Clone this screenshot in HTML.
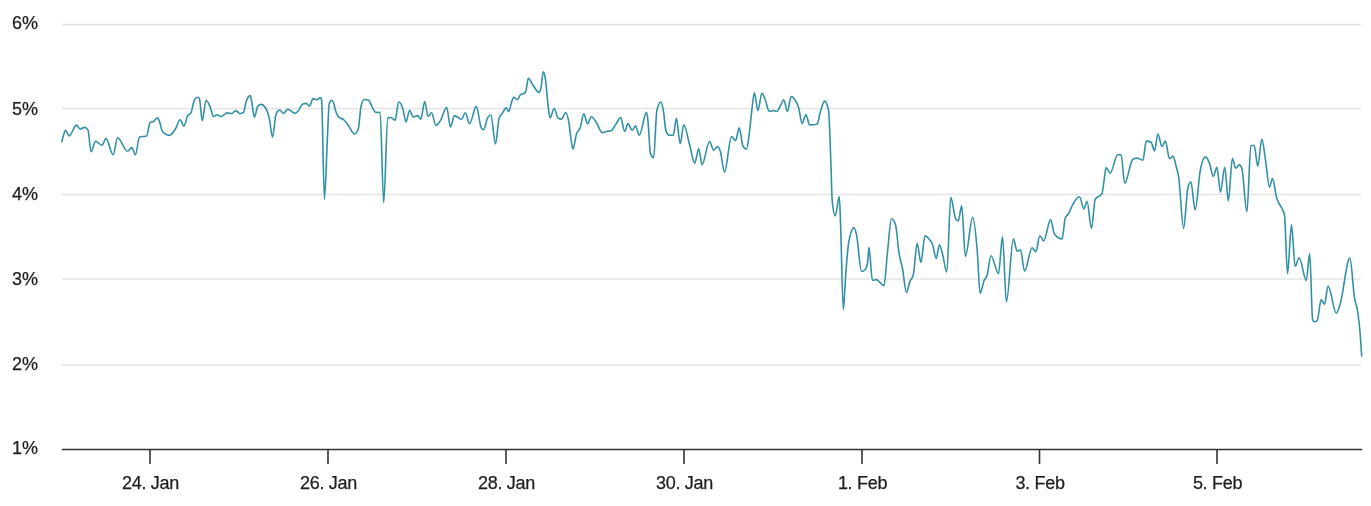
<!DOCTYPE html>
<html><head><meta charset="utf-8"><style>
html,body{margin:0;padding:0;background:#fff;width:1371px;height:506px;overflow:hidden}
svg{display:block;will-change:transform}
text{font-family:"Liberation Sans",sans-serif;font-size:18px;fill:#1e1e1e;stroke:#1e1e1e;stroke-width:0.25px}
</style></head><body>
<svg width="1371" height="506" viewBox="0 0 1371 506">
<line x1="62" y1="24.4" x2="1361" y2="24.4" stroke="#e4e4e4" stroke-width="1.5"/>
<line x1="62" y1="108.6" x2="1361" y2="108.6" stroke="#e4e4e4" stroke-width="1.5"/>
<line x1="62" y1="194.4" x2="1361" y2="194.4" stroke="#e4e4e4" stroke-width="1.5"/>
<line x1="62" y1="279" x2="1361" y2="279" stroke="#e4e4e4" stroke-width="1.5"/>
<line x1="62" y1="364.9" x2="1361" y2="364.9" stroke="#e4e4e4" stroke-width="1.5"/>
<line x1="62" y1="449.5" x2="1362" y2="449.5" stroke="#333" stroke-width="1.6"/>
<line x1="150" y1="449" x2="150" y2="464" stroke="#333" stroke-width="1.6"/>
<line x1="328" y1="449" x2="328" y2="464" stroke="#333" stroke-width="1.6"/>
<line x1="506" y1="449" x2="506" y2="464" stroke="#333" stroke-width="1.6"/>
<line x1="684" y1="449" x2="684" y2="464" stroke="#333" stroke-width="1.6"/>
<line x1="862" y1="449" x2="862" y2="464" stroke="#333" stroke-width="1.6"/>
<line x1="1039.5" y1="449" x2="1039.5" y2="464" stroke="#333" stroke-width="1.6"/>
<line x1="1217" y1="449" x2="1217" y2="464" stroke="#333" stroke-width="1.6"/>
<path d="M61.8 141.7 C63.03 137.93 64.27 130.40 65.5 130.4 C66.73 130.40 67.97 135.90 69.2 135.9 C71.60 135.90 74.00 125.10 76.4 125.1 C77.67 125.10 78.93 129.20 80.2 129.2 C81.67 129.20 83.13 127.40 84.6 127.4 C85.73 127.40 86.87 128.33 88.0 130.2 C89.03 131.90 90.07 151.70 91.1 151.7 C92.57 151.70 94.03 141.30 95.5 141.3 C97.63 141.30 99.77 145.20 101.9 145.2 C103.27 145.20 104.63 138.60 106.0 138.6 C108.40 138.60 110.80 154.70 113.2 154.7 C114.67 154.70 116.13 137.70 117.6 137.7 C120.90 137.70 124.20 151.30 127.5 151.3 C129.00 151.30 130.50 147.60 132.0 147.6 C133.13 147.60 134.27 155.00 135.4 155.0 C136.77 155.00 138.13 137.42 139.5 137.0 C141.87 136.27 144.23 136.63 146.6 135.9 C147.77 135.54 148.93 123.19 150.1 122.5 C151.23 121.83 152.37 122.16 153.5 121.5 C154.87 120.71 156.23 117.70 157.6 117.7 C158.27 117.70 158.93 120.06 159.6 121.8 C160.53 124.24 161.47 130.17 162.4 131.3 C164.67 134.03 166.93 135.40 169.2 135.4 C171.23 135.40 173.27 132.45 175.3 129.3 C176.90 126.82 178.50 119.80 180.1 119.8 C181.37 119.80 182.63 126.20 183.9 126.2 C185.13 126.20 186.37 117.73 187.6 115.7 C188.73 113.83 189.87 114.77 191.0 112.9 C192.13 111.03 193.27 101.80 194.4 100.0 C195.53 98.20 196.67 97.30 197.8 97.3 C198.33 97.30 198.87 97.73 199.4 98.6 C200.37 100.17 201.33 120.70 202.3 120.7 C203.53 120.70 204.77 100.30 206.0 100.3 C207.37 100.30 208.73 103.66 210.1 106.8 C211.23 109.40 212.37 116.60 213.5 116.6 C214.63 116.60 215.77 114.70 216.9 114.7 C218.27 114.70 219.63 116.60 221.0 116.6 C223.03 116.60 225.07 112.90 227.1 112.9 C228.70 112.90 230.30 113.60 231.9 113.6 C233.17 113.60 234.43 110.60 235.7 110.6 C237.17 110.60 238.63 113.60 240.1 113.6 C241.23 113.60 242.37 113.17 243.5 112.3 C244.40 111.61 245.30 103.95 246.2 101.4 C247.57 97.53 248.93 95.60 250.3 95.6 C250.90 95.60 251.50 101.00 252.1 104.1 C252.87 108.06 253.63 117.30 254.4 117.3 C255.53 117.30 256.67 107.23 257.8 106.1 C258.93 104.97 260.07 104.40 261.2 104.4 C262.57 104.40 263.93 105.43 265.3 107.5 C266.67 109.57 268.03 112.92 269.4 119.1 C270.43 123.78 271.47 137.10 272.5 137.1 C273.73 137.10 274.97 116.21 276.2 113.6 C277.33 111.20 278.47 110.00 279.6 110.0 C280.97 110.00 282.33 113.30 283.7 113.3 C285.07 113.30 286.43 109.30 287.8 109.3 C290.30 109.30 292.80 113.30 295.3 113.3 C296.43 113.30 297.57 111.53 298.7 110.2 C300.07 108.60 301.43 104.66 302.8 104.1 C303.93 103.63 305.07 103.40 306.2 103.4 C307.33 103.40 308.47 106.10 309.6 106.1 C310.73 106.10 311.87 98.60 313.0 98.6 C314.37 98.60 315.73 99.70 317.1 99.7 C318.23 99.70 319.37 97.50 320.5 97.5 C320.87 97.50 321.23 98.33 321.6 100.0 C322.53 104.24 323.47 199.20 324.4 199.2 C325.40 199.20 326.40 157.52 327.4 138.0 C328.00 126.28 328.60 105.68 329.2 103.8 C329.97 101.40 330.73 100.20 331.5 100.2 C332.10 100.20 332.70 100.80 333.3 102.0 C334.03 103.47 334.77 108.28 335.5 110.6 C336.87 114.93 338.23 116.87 339.6 117.9 C340.83 118.83 342.07 118.38 343.3 119.3 C344.80 120.42 346.30 122.80 347.8 124.7 C350.07 127.57 352.33 134.00 354.6 134.0 C355.83 134.00 357.07 132.27 358.3 128.8 C359.20 126.27 360.10 110.44 361.0 106.5 C362.07 101.83 363.13 99.50 364.2 99.5 C365.70 99.50 367.20 99.73 368.7 100.2 C369.93 100.58 371.17 105.43 372.4 107.5 C373.60 109.51 374.80 112.50 376.0 112.5 C377.37 112.50 378.73 112.20 380.1 112.2 C381.30 112.20 382.50 202.60 383.7 202.6 C385.07 202.60 386.43 118.24 387.8 117.9 C388.87 117.63 389.93 117.50 391.0 117.5 C392.37 117.50 393.73 120.20 395.1 120.2 C396.30 120.20 397.50 102.00 398.7 102.0 C400.07 102.00 401.43 104.20 402.8 108.4 C403.87 111.68 404.93 122.00 406.0 122.0 C407.20 122.00 408.40 110.20 409.6 110.2 C410.83 110.20 412.07 117.00 413.3 117.0 C414.80 117.00 416.30 115.60 417.8 115.6 C418.80 115.60 419.80 119.30 420.8 119.3 C422.10 119.30 423.40 101.50 424.7 101.5 C425.83 101.50 426.97 116.50 428.1 116.5 C429.30 116.50 430.50 112.70 431.7 112.7 C433.07 112.70 434.43 125.50 435.8 125.5 C437.33 125.50 438.87 122.91 440.4 120.6 C442.50 117.44 444.60 107.30 446.7 107.3 C447.93 107.30 449.17 127.00 450.4 127.0 C451.77 127.00 453.13 115.60 454.5 115.6 C456.77 115.60 459.03 119.30 461.3 119.3 C462.67 119.30 464.03 112.70 465.4 112.7 C466.77 112.70 468.13 123.80 469.5 123.8 C471.77 123.80 474.03 106.40 476.3 106.4 C477.97 106.40 479.63 125.17 481.3 127.9 C482.03 129.10 482.77 129.70 483.5 129.7 C484.87 129.70 486.23 120.39 487.6 117.9 C488.67 115.96 489.73 114.70 490.8 114.7 C492.37 114.70 493.93 144.00 495.5 144.0 C496.70 144.00 497.90 121.83 499.1 118.2 C500.27 114.67 501.43 114.66 502.6 112.9 C503.73 111.19 504.87 107.80 506.0 107.8 C506.90 107.80 507.80 111.50 508.7 111.5 C509.47 111.50 510.23 106.40 511.0 104.2 C511.90 101.61 512.80 97.40 513.7 97.4 C514.93 97.40 516.17 99.60 517.4 99.6 C518.43 99.60 519.47 95.26 520.5 94.6 C521.87 93.73 523.23 94.17 524.6 93.3 C525.07 93.00 525.53 92.02 526.0 90.5 C526.77 88.01 527.53 78.30 528.3 78.3 C529.67 78.30 531.03 82.35 532.4 84.2 C534.67 87.28 536.93 92.50 539.2 92.5 C539.80 92.50 540.40 90.50 541.0 87.8 C541.77 84.35 542.53 71.90 543.3 71.9 C544.03 71.90 544.77 74.91 545.5 79.6 C546.43 85.57 547.37 100.83 548.3 107.8 C548.87 112.03 549.43 117.80 550.0 117.8 C551.40 117.80 552.80 108.50 554.2 108.5 C555.53 108.50 556.87 117.53 558.2 118.2 C559.40 118.80 560.60 119.10 561.8 119.1 C563.03 119.10 564.27 112.50 565.5 112.5 C566.63 112.50 567.77 115.90 568.9 122.7 C569.57 126.70 570.23 133.98 570.9 138.3 C571.60 142.84 572.30 149.00 573.0 149.0 C574.13 149.00 575.27 137.82 576.4 134.3 C577.67 130.37 578.93 131.20 580.2 127.7 C581.43 124.30 582.67 113.80 583.9 113.8 C585.10 113.80 586.30 124.00 587.5 124.0 C588.77 124.00 590.03 116.80 591.3 116.8 C592.90 116.80 594.50 119.83 596.1 122.0 C598.17 124.80 600.23 132.60 602.3 132.6 C603.87 132.60 605.43 131.60 607.0 131.3 C608.37 131.03 609.73 131.13 611.1 130.8 C612.47 130.47 613.83 127.26 615.2 125.4 C617.03 122.91 618.87 117.60 620.7 117.6 C622.03 117.60 623.37 131.50 624.7 131.5 C625.77 131.50 626.83 123.60 627.9 123.6 C629.33 123.60 630.77 130.20 632.2 130.2 C633.33 130.20 634.47 126.10 635.6 126.1 C636.83 126.10 638.07 135.30 639.3 135.3 C641.70 135.30 644.10 112.40 646.5 112.4 C646.93 112.40 647.37 115.95 647.8 119.3 C648.70 126.26 649.60 151.48 650.5 153.8 C651.53 156.47 652.57 157.80 653.6 157.8 C654.70 157.80 655.80 114.71 656.9 110.2 C658.23 104.73 659.57 102.00 660.9 102.0 C661.70 102.00 662.50 105.84 663.3 110.2 C664.20 115.11 665.10 129.00 666.0 131.1 C667.20 133.90 668.40 135.30 669.6 135.3 C670.83 135.30 672.07 135.30 673.3 135.3 C674.33 135.30 675.37 118.40 676.4 118.4 C677.67 118.40 678.93 143.80 680.2 143.8 C681.40 143.80 682.60 124.70 683.8 124.7 C685.73 124.70 687.67 137.83 689.6 144.7 C691.30 150.74 693.00 163.30 694.7 163.3 C696.03 163.30 697.37 148.70 698.7 148.7 C699.80 148.70 700.90 164.70 702.0 164.7 C704.53 164.70 707.07 141.50 709.6 141.5 C710.93 141.50 712.27 150.20 713.6 150.2 C715.00 150.20 716.40 146.50 717.8 146.5 C718.70 146.50 719.60 149.06 720.5 152.0 C721.83 156.36 723.17 172.40 724.5 172.4 C726.83 172.40 729.17 136.50 731.5 136.5 C732.87 136.50 734.23 140.60 735.6 140.6 C736.80 140.60 738.00 127.90 739.2 127.9 C740.43 127.90 741.67 143.88 742.9 146.0 C744.10 148.07 745.30 149.10 746.5 149.1 C747.33 149.10 748.17 141.74 749.0 135.8 C749.90 129.39 750.80 118.45 751.7 111.3 C752.60 104.15 753.50 92.90 754.4 92.9 C755.57 92.90 756.73 110.60 757.9 110.6 C759.23 110.60 760.57 93.30 761.9 93.3 C763.03 93.30 764.17 96.99 765.3 99.7 C766.60 102.81 767.90 111.30 769.2 111.3 C770.63 111.30 772.07 110.60 773.5 110.6 C774.63 110.60 775.77 111.30 776.9 111.3 C778.27 111.30 779.63 106.75 781.0 104.4 C781.90 102.85 782.80 99.70 783.7 99.7 C784.93 99.70 786.17 111.50 787.4 111.5 C788.67 111.50 789.93 96.50 791.2 96.5 C792.57 96.50 793.93 98.16 795.3 100.4 C796.43 102.26 797.57 104.05 798.7 107.9 C799.83 111.75 800.97 123.50 802.1 123.5 C803.40 123.50 804.70 114.70 806.0 114.7 C807.20 114.70 808.40 124.90 809.6 124.9 C812.10 124.90 814.60 124.67 817.1 124.2 C818.23 123.99 819.37 114.93 820.5 111.3 C821.87 106.92 823.23 101.10 824.6 101.1 C825.90 101.10 827.20 104.13 828.5 110.2 C829.27 113.78 830.03 140.21 830.8 160.2 C831.27 172.37 831.73 195.55 832.2 200.4 C833.20 210.80 834.20 216.00 835.2 216.0 C836.57 216.00 837.93 196.50 839.3 196.5 C839.73 196.50 840.17 214.09 840.6 224.9 C841.50 247.35 842.40 309.60 843.3 309.6 C844.13 309.60 844.97 284.03 845.8 273.4 C846.70 261.92 847.60 249.37 848.5 244.0 C850.33 233.07 852.17 227.60 854.0 227.6 C854.90 227.60 855.80 231.65 856.7 235.8 C858.30 243.18 859.90 271.40 861.5 271.4 C862.63 271.40 863.77 270.93 864.9 270.0 C865.80 269.26 866.70 267.50 867.6 262.5 C868.07 259.91 868.53 247.40 869.0 247.4 C870.13 247.40 871.27 280.30 872.4 280.3 C873.77 280.30 875.13 279.60 876.5 279.6 C877.63 279.60 878.77 281.38 879.9 282.3 C881.27 283.41 882.63 285.70 884.0 285.7 C885.13 285.70 886.27 263.24 887.4 253.0 C888.77 240.65 890.13 218.80 891.5 218.8 C892.87 218.80 894.23 220.83 895.6 224.9 C896.73 228.27 897.87 245.82 899.0 253.0 C900.13 260.18 901.27 262.20 902.4 268.0 C903.77 275.00 905.13 292.50 906.5 292.5 C907.63 292.50 908.77 284.55 909.9 281.6 C911.03 278.65 912.17 279.33 913.3 274.8 C914.60 269.60 915.90 243.30 917.2 243.3 C918.43 243.30 919.67 262.50 920.9 262.5 C922.27 262.50 923.63 235.80 925.0 235.8 C926.57 235.80 928.13 237.89 929.7 239.9 C930.60 241.05 931.50 241.82 932.4 244.0 C933.70 247.14 935.00 258.50 936.3 258.5 C937.30 258.50 938.30 244.70 939.3 244.7 C940.30 244.70 941.30 249.64 942.3 253.0 C943.80 258.04 945.30 272.10 946.8 272.1 C948.13 272.10 949.47 197.40 950.8 197.4 C952.40 197.40 954.00 216.43 955.6 218.8 C956.50 220.13 957.40 220.80 958.3 220.8 C959.43 220.80 960.57 205.80 961.7 205.8 C962.93 205.80 964.17 256.40 965.4 256.4 C967.83 256.40 970.27 217.40 972.7 217.4 C974.27 217.40 975.83 233.86 977.4 253.0 C978.30 264.00 979.20 293.20 980.1 293.2 C981.47 293.20 982.83 283.44 984.2 280.3 C985.13 278.16 986.07 278.34 987.0 275.5 C988.33 271.44 989.67 255.70 991.0 255.7 C993.50 255.70 996.00 273.60 998.5 273.6 C999.83 273.60 1001.17 236.80 1002.5 236.8 C1003.80 236.80 1005.10 302.00 1006.4 302.0 C1008.73 302.00 1011.07 238.90 1013.4 238.9 C1014.63 238.90 1015.87 251.10 1017.1 251.1 C1018.23 251.10 1019.37 249.80 1020.5 249.8 C1021.87 249.80 1023.23 271.20 1024.6 271.2 C1027.10 271.20 1029.60 247.70 1032.1 247.7 C1033.33 247.70 1034.57 251.80 1035.8 251.8 C1037.17 251.80 1038.53 235.70 1039.9 235.7 C1041.17 235.70 1042.43 240.90 1043.7 240.9 C1046.00 240.90 1048.30 219.60 1050.6 219.6 C1051.87 219.60 1053.13 232.39 1054.4 234.0 C1056.97 237.27 1059.53 238.90 1062.1 238.9 C1063.13 238.90 1064.17 221.06 1065.2 218.2 C1066.33 215.07 1067.47 215.47 1068.6 213.5 C1069.97 211.12 1071.33 207.05 1072.7 204.6 C1074.97 200.54 1077.23 196.70 1079.5 196.7 C1080.97 196.70 1082.43 209.00 1083.9 209.0 C1084.93 209.00 1085.97 201.20 1087.0 201.2 C1088.50 201.20 1090.00 228.50 1091.5 228.5 C1092.73 228.50 1093.97 201.20 1095.2 199.2 C1097.47 195.53 1099.73 197.37 1102.0 193.7 C1102.70 192.57 1103.40 184.55 1104.1 180.1 C1104.77 175.86 1105.43 167.60 1106.1 167.6 C1107.47 167.60 1108.83 173.10 1110.2 173.1 C1112.70 173.10 1115.20 154.70 1117.7 154.7 C1118.83 154.70 1119.97 154.70 1121.1 154.7 C1122.30 154.70 1123.50 183.30 1124.7 183.3 C1127.37 183.30 1130.03 161.32 1132.7 159.5 C1134.07 158.57 1135.43 158.10 1136.8 158.1 C1138.83 158.10 1140.87 160.20 1142.9 160.2 C1144.03 160.20 1145.17 141.10 1146.3 141.1 C1147.90 141.10 1149.50 141.47 1151.1 142.2 C1152.23 142.72 1153.37 150.90 1154.5 150.9 C1155.63 150.90 1156.77 134.00 1157.9 134.0 C1159.27 134.00 1160.63 146.50 1162.0 146.5 C1163.13 146.50 1164.27 141.10 1165.4 141.1 C1166.77 141.10 1168.13 158.80 1169.5 158.8 C1170.63 158.80 1171.77 156.10 1172.9 156.1 C1174.03 156.10 1175.17 162.65 1176.3 167.0 C1177.10 170.07 1177.90 172.25 1178.7 177.3 C1180.33 187.61 1181.97 228.40 1183.6 228.4 C1185.00 228.40 1186.40 193.98 1187.8 188.2 C1188.83 183.93 1189.87 181.80 1190.9 181.8 C1192.30 181.80 1193.70 210.00 1195.1 210.0 C1196.90 210.00 1198.70 177.88 1200.5 169.1 C1202.17 160.97 1203.83 156.90 1205.5 156.9 C1206.87 156.90 1208.23 160.06 1209.6 163.6 C1210.83 166.80 1212.07 176.40 1213.3 176.4 C1214.50 176.40 1215.70 167.30 1216.9 167.3 C1218.10 167.30 1219.30 192.20 1220.5 192.2 C1221.90 192.20 1223.30 167.30 1224.7 167.3 C1225.93 167.30 1227.17 200.90 1228.4 200.9 C1229.73 200.90 1231.07 158.20 1232.4 158.2 C1233.47 158.20 1234.53 168.20 1235.6 168.2 C1236.83 168.20 1238.07 164.90 1239.3 164.9 C1240.13 164.90 1240.97 166.00 1241.8 168.2 C1243.50 172.69 1245.20 211.80 1246.9 211.8 C1248.23 211.80 1249.57 145.50 1250.9 145.5 C1252.00 145.50 1253.10 145.50 1254.2 145.5 C1255.40 145.50 1256.60 166.40 1257.8 166.4 C1259.13 166.40 1260.47 139.10 1261.8 139.1 C1263.10 139.10 1264.40 153.35 1265.7 161.6 C1266.93 169.43 1268.17 187.10 1269.4 187.1 C1270.43 187.10 1271.47 178.60 1272.5 178.6 C1273.90 178.60 1275.30 193.31 1276.7 198.1 C1278.30 203.57 1279.90 204.13 1281.5 207.8 C1282.50 210.10 1283.50 210.27 1284.5 215.2 C1285.50 220.13 1286.50 273.80 1287.5 273.8 C1288.83 273.80 1290.17 224.70 1291.5 224.7 C1292.70 224.70 1293.90 266.30 1295.1 266.3 C1296.47 266.30 1297.83 257.70 1299.2 257.7 C1301.57 257.70 1303.93 280.50 1306.3 280.5 C1307.43 280.50 1308.57 253.30 1309.7 253.3 C1310.67 253.30 1311.63 317.36 1312.6 319.6 C1313.23 321.07 1313.87 321.80 1314.5 321.8 C1315.40 321.80 1316.30 321.37 1317.2 320.5 C1318.53 319.22 1319.87 299.60 1321.2 299.6 C1322.30 299.60 1323.40 304.20 1324.5 304.2 C1325.70 304.20 1326.90 286.00 1328.1 286.0 C1330.83 286.00 1333.57 313.30 1336.3 313.3 C1337.50 313.30 1338.70 308.60 1339.9 305.1 C1343.23 295.37 1346.57 258.10 1349.9 258.1 C1351.43 258.10 1352.97 288.65 1354.5 297.8 C1355.50 303.77 1356.50 303.99 1357.5 310.5 C1358.30 315.71 1359.10 321.17 1359.9 330.5 C1360.50 337.50 1361.10 347.50 1361.7 356.0" fill="none" stroke="#3190a5" stroke-width="1.6" stroke-linejoin="round" stroke-linecap="round"/>
<text x="38" y="28.5" text-anchor="end">6%</text>
<text x="38" y="114.5" text-anchor="end">5%</text>
<text x="38" y="200" text-anchor="end">4%</text>
<text x="38" y="285" text-anchor="end">3%</text>
<text x="38" y="369.6" text-anchor="end">2%</text>
<text x="38" y="453.6" text-anchor="end">1%</text>
<text x="150.5" y="489" text-anchor="middle" letter-spacing="-0.3">24. Jan</text>
<text x="328.5" y="489" text-anchor="middle" letter-spacing="-0.3">26. Jan</text>
<text x="506.5" y="489" text-anchor="middle" letter-spacing="-0.3">28. Jan</text>
<text x="684.5" y="489" text-anchor="middle" letter-spacing="-0.3">30. Jan</text>
<text x="862.5" y="489" text-anchor="middle" letter-spacing="-0.3">1. Feb</text>
<text x="1040.0" y="489" text-anchor="middle" letter-spacing="-0.3">3. Feb</text>
<text x="1217.5" y="489" text-anchor="middle" letter-spacing="-0.3">5. Feb</text>
</svg>
</body></html>
